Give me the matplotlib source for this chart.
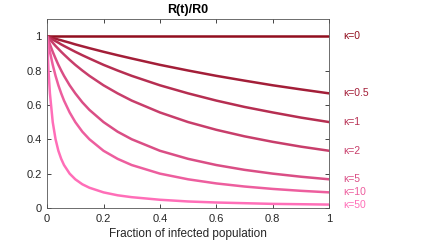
import matplotlib
matplotlib.use("Agg")
import matplotlib.pyplot as plt
import numpy as np

plt.rcParams['font.family'] = ['Liberation Sans', 'DejaVu Sans']

x = [0, .005, .01, .02, .03, .04, .05, .06, .08, .1, .125, .15, .2, .25, .3, .4, .5, .6, .7, .8, .9, 1]
kappa_labels = ["κ=0", "κ=0.5", "κ=1", "κ=2", "κ=5", "κ=10", "κ=50"]
y_k0 = [1.0] * 22
y_k05 = [1, .9975, .995, .990, .985, .980, .976, .971, .962, .952, .941, .930, .909, .889, .870, .833, .800, .769, .741, .714, .690, .667]
y_k1 = [1, .995, .990, .980, .971, .962, .952, .943, .926, .909, .889, .870, .833, .800, .769, .714, .667, .625, .588, .556, .526, .500]
y_k2 = [1, .990, .980, .962, .943, .926, .909, .893, .862, .833, .800, .769, .714, .667, .625, .556, .500, .455, .417, .385, .357, .333]
y_k5 = [1, .976, .952, .909, .870, .833, .800, .769, .714, .667, .615, .571, .500, .444, .400, .333, .286, .250, .222, .200, .182, .167]
y_k10 = [1, .952, .909, .833, .769, .714, .667, .625, .556, .500, .444, .400, .333, .286, .250, .200, .167, .143, .125, .111, .100, .091]
y_k50 = [1, .800, .667, .500, .400, .333, .286, .250, .200, .167, .138, .118, .091, .074, .063, .048, .038, .032, .028, .024, .022, .020]
series = [y_k0, y_k05, y_k1, y_k2, y_k5, y_k10, y_k50]

c0 = np.array([145, 14, 30]) / 255
c1 = np.array([255, 110, 184]) / 255
colors = [tuple(c0 + (c1 - c0) * i / 6) for i in range(7)]

fig = plt.figure(figsize=(4.36, 2.43), dpi=100)
ax = fig.add_axes([0.108, 0.144, 0.647, 0.778])
for ys, col, lab in zip(series, colors, kappa_labels):
    ax.plot(x, ys, color=col, lw=1.8, solid_capstyle='butt')
    ax.text(1.05, ys[-1], lab, color=col, fontsize=7.5, ha='left', va='center')

ax.set_xlim(0, 1)
ax.set_ylim(0, 1.1)
ax.set_xticks([0, 0.2, 0.4, 0.6, 0.8, 1])
ax.set_xticklabels(["0", "0.2", "0.4", "0.6", "0.8", "1"])
ax.set_yticks([0, 0.2, 0.4, 0.6, 0.8, 1])
ax.set_yticklabels(["0", "0.2", "0.4", "0.6", "0.8", "1"])
ax.tick_params(direction='in', length=3, width=0.6, top=True, right=True,
               labelsize=8, colors='#262626', pad=4)
for s in ax.spines.values():
    s.set_color('#555555')
    s.set_linewidth(0.6)
ax.set_title("R(t)/R0", fontsize=9, fontweight='bold', pad=4)
ax.set_xlabel("Fraction of infected population", fontsize=8.5, color='#262626', labelpad=3)

fig.savefig("out.png", dpi=100)
